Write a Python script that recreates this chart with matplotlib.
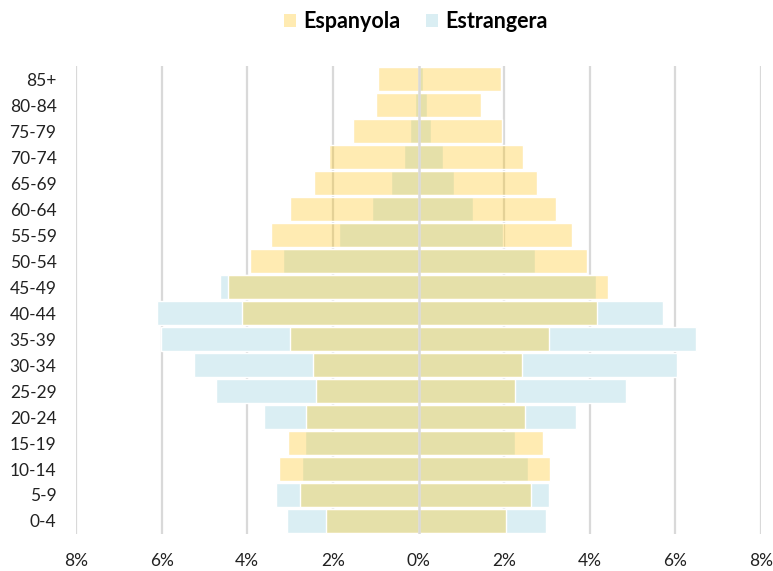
import matplotlib
matplotlib.use("Agg")
import matplotlib.pyplot as plt
from matplotlib.patches import Patch
import numpy as np

plt.rcParams['font.family'] = ['Lato', 'DejaVu Sans']

ages = ["0-4", "5-9", "10-14", "15-19", "20-24", "25-29", "30-34", "35-39", "40-44",
        "45-49", "50-54", "55-59", "60-64", "65-69", "70-74", "75-79", "80-84", "85+"]

# left side (values in %), bottom to top
esp_left = [2.16, 2.76, 3.26, 3.04, 2.62, 2.40, 2.47, 3.01, 4.13,
            4.46, 3.93, 3.45, 2.99, 2.44, 2.09, 1.52, 0.99, 0.94]
est_left = [3.08, 3.32, 2.73, 2.64, 3.62, 4.73, 5.25, 6.02, 6.11,
            4.64, 3.17, 1.86, 1.08, 0.64, 0.34, 0.20, 0.08, 0.02]
# right side
esp_right = [2.05, 2.62, 3.06, 2.90, 2.48, 2.26, 2.41, 3.04, 4.18,
             4.42, 3.94, 3.59, 3.22, 2.77, 2.45, 1.95, 1.45, 1.93]
est_right = [2.98, 3.05, 2.56, 2.26, 3.68, 4.84, 6.04, 6.47, 5.70,
             4.15, 2.73, 1.98, 1.27, 0.82, 0.57, 0.29, 0.20, 0.10]

ticks = [-8, -6, -4, -2, 0, 2, 4, 6, 8]
tick_labels = ["8%", "6%", "4%", "2%", "0%", "2%", "4%", "6%", "8%"]

c_est = "#DAEEF3"
c_esp = (1.0, 192/255, 0.0, 0.3)

fig = plt.figure(figsize=(7.73, 5.71), dpi=100)
ax = fig.add_axes([0.0983, 0.0648, 0.8862, 0.8196])

y = np.arange(len(ages))
h = 0.9
for t in ticks:
    if t != 0:
        ax.axvline(t, color="#d9d9d9", lw=1.6, zorder=0)

ax.barh(y, [-v for v in est_left], height=h, color=c_est, edgecolor="white", linewidth=1.0, zorder=1)
ax.barh(y, est_right, height=h, color=c_est, edgecolor="white", linewidth=1.0, zorder=1)
ax.barh(y, [-v for v in esp_left], height=h, color=c_esp, edgecolor="white", linewidth=1.0, zorder=2)
ax.barh(y, esp_right, height=h, color=c_esp, edgecolor="white", linewidth=1.0, zorder=2)
ax.axvline(0, color="#d9d9d9", lw=1.8, zorder=3)

ax.set_xlim(-8, 8)
ax.set_ylim(-0.5, len(ages) - 0.5)
ax.set_yticks(y)
ax.set_yticklabels(ages, fontsize=12.5, color="#222222")
ax.set_xticks(ticks)
ax.set_xticklabels(tick_labels, fontsize=12.5, color="#222222")
ax.tick_params(axis="both", length=0)
ax.tick_params(axis="x", pad=14)
ax.tick_params(axis="y", pad=14)
for s in ax.spines.values():
    s.set_visible(False)

handles = [Patch(facecolor=c_esp, edgecolor="none", label="Espanyola"),
           Patch(facecolor=c_est, edgecolor="none", label="Estrangera")]
leg = fig.legend(handles=handles, loc="upper center", bbox_to_anchor=(0.538, 1.015), ncol=2,
                 frameon=False, prop={"weight": "bold", "size": 15.5},
                 handlelength=0.55, handleheight=0.55, handletextpad=0.35, columnspacing=1.2)

fig.savefig("out.png", dpi=100, facecolor="white")
